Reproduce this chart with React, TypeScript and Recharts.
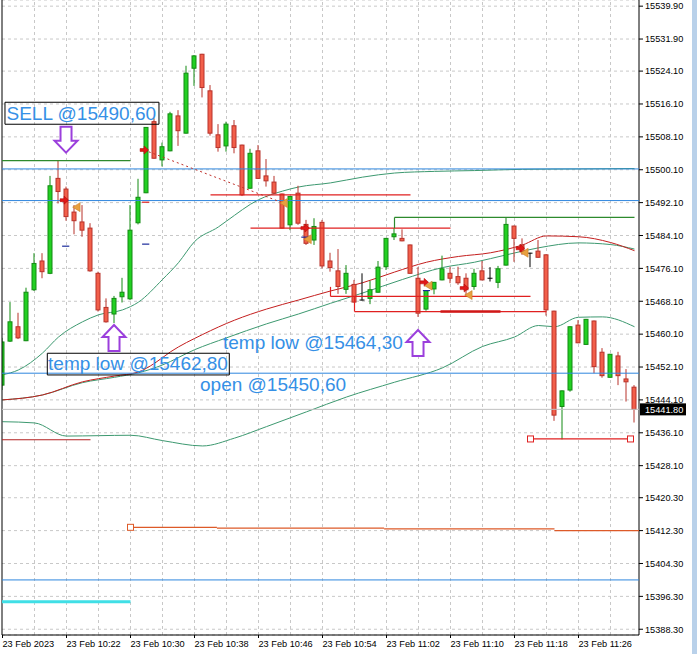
import React from "react";
import {
  ComposedChart,
  Bar,
  Line,
  XAxis,
  YAxis,
  CartesianGrid,
  ReferenceLine,
  ReferenceArea,
  ReferenceDot,
} from "recharts";

// ---------- axes ----------
const xTickIdx = [0, 8, 16, 24, 32, 40, 48, 56, 64, 72];
const xLabels = [
  "23 Feb 2023",
  "23 Feb 10:22",
  "23 Feb 10:30",
  "23 Feb 10:38",
  "23 Feb 10:46",
  "23 Feb 10:54",
  "23 Feb 11:02",
  "23 Feb 11:10",
  "23 Feb 11:18",
  "23 Feb 11:26",
];
const gridIdx = [4, 8, 12, 16, 20, 24, 28, 32, 36, 40, 44, 48, 52, 56, 60, 64, 68, 72, 76];
const yTicks = [
  15539.9, 15531.9, 15524.1, 15516.1, 15508.1, 15500.1, 15492.1, 15484.1, 15476.1, 15468.1,
  15460.1, 15452.1, 15444.1, 15436.1, 15428.1, 15420.3, 15412.3, 15404.3, 15396.3, 15388.3,
];
const xDomain = [-0.0625, 79.5625];
const yDomain = [15386.9, 15541.4];

// ---------- candles (1 minute, 10:14 .. 11:33) ----------
const opens = [
  15447.7, 15458.4, 15461.9, 15458.5, 15470.9, 15477.9, 15474.9, 15498.0, 15495.4, 15489.8,
  15487.4, 15485.9, 15474.9, 15466.6, 15465.0, 15469.2, 15468.7, 15487.2, 15494.5, 15511.8,
  15502.5, 15504.7, 15513.2, 15509.0, 15524.8, 15528.2, 15519.3, 15508.6, 15505.9, 15510.8,
  15506.1, 15495.6, 15504.7, 15498.6, 15497.1, 15494.2, 15486.7, 15494.4, 15486.8, 15483.0,
  15487.3, 15477.9, 15475.5, 15471.0, 15472.2, 15468.4, 15468.8, 15470.3, 15476.5, 15483.8,
  15483.4, 15481.8, 15473.7, 15466.2, 15471.1, 15473.3, 15474.9, 15474.1, 15473.7, 15471.7,
  15475.5, 15473.7, 15472.7, 15476.9, 15486.4, 15481.8, 15479.8, 15480.3, 15479.4, 15465.7,
  15442.5, 15446.5, 15462.3, 15457.6, 15463.3, 15455.7, 15449.6, 15454.8, 15449.2, 15447.2,
];
const highs = [
  15459.2, 15467.9, 15465.3, 15471.4, 15479.8, 15479.8, 15498.6, 15502.3, 15496.0, 15491.5,
  15491.5, 15487.1, 15475.3, 15468.8, 15469.4, 15473.8, 15491.5, 15497.9, 15510.5, 15512.6,
  15506.7, 15514.2, 15514.6, 15525.4, 15528.0, 15528.3, 15520.7, 15511.2, 15511.8, 15512.2,
  15506.2, 15505.2, 15506.1, 15502.7, 15498.6, 15494.3, 15493.7, 15496.2, 15487.9, 15488.3,
  15487.9, 15479.9, 15480.8, 15476.9, 15473.3, 15474.9, 15473.1, 15477.9, 15483.5, 15485.9,
  15485.6, 15481.9, 15476.4, 15470.8, 15472.8, 15479.2, 15476.4, 15476.5, 15474.9, 15476.0,
  15477.9, 15476.4, 15476.7, 15488.5, 15486.5, 15483.4, 15479.9, 15483.0, 15479.5, 15465.8,
  15446.4, 15462.0, 15463.5, 15463.8, 15463.4, 15456.7, 15455.3, 15455.8, 15451.6, 15447.7,
];
const lows = [
  15446.5, 15458.2, 15458.9, 15458.4, 15470.6, 15473.7, 15474.7, 15491.9, 15487.7, 15484.4,
  15483.8, 15475.3, 15465.6, 15462.9, 15462.8, 15467.8, 15468.4, 15486.8, 15494.4, 15502.8,
  15500.9, 15504.6, 15505.9, 15508.9, 15520.5, 15517.7, 15508.4, 15504.5, 15504.5, 15504.1,
  15493.7, 15495.5, 15497.9, 15496.0, 15494.2, 15485.8, 15485.4, 15486.7, 15481.8, 15481.8,
  15476.1, 15475.3, 15469.9, 15469.9, 15467.8, 15468.3, 15467.4, 15470.2, 15475.7, 15483.0,
  15482.7, 15474.8, 15464.3, 15465.8, 15469.8, 15473.2, 15472.5, 15472.1, 15469.2, 15470.9,
  15473.2, 15472.9, 15471.3, 15476.8, 15477.7, 15479.4, 15476.4, 15478.7, 15464.6, 15439.0,
  15434.5, 15446.1, 15457.9, 15457.5, 15450.6, 15449.5, 15449.5, 15447.7, 15443.7, 15438.6,
];
const closes = [
  15458.2, 15463.1, 15459.2, 15470.3, 15477.3, 15475.3, 15496.2, 15494.8, 15488.7, 15487.7,
  15485.4, 15475.5, 15466.0, 15463.1, 15468.8, 15470.3, 15485.4, 15493.4, 15510.4, 15502.9,
  15505.7, 15513.7, 15509.6, 15523.6, 15527.8, 15520.1, 15509.0, 15505.5, 15511.2, 15505.5,
  15494.0, 15504.1, 15498.0, 15497.4, 15494.4, 15485.9, 15493.6, 15487.1, 15482.2, 15486.3,
  15476.7, 15476.3, 15471.7, 15474.9, 15467.9, 15468.4, 15470.9, 15476.4, 15483.4, 15484.5,
  15482.8, 15474.9, 15465.2, 15470.7, 15472.7, 15476.0, 15473.7, 15472.6, 15470.9, 15474.9,
  15473.3, 15473.7, 15476.0, 15486.8, 15483.4, 15480.2, 15479.8, 15478.8, 15466.0, 15440.4,
  15446.3, 15461.9, 15458.0, 15463.7, 15452.2, 15450.0, 15455.2, 15450.0, 15448.5, 15441.8,
];

// ---------- indicators: [candle index, price] ----------
const maRed = [
  [0, 15444.1], [5, 15445.3], [10, 15448.5], [14, 15449.9], [17, 15450.9], [19, 15453.0],
  [21, 15455.8], [25, 15460.0], [29, 15463.5], [33, 15466.2], [37, 15468.4], [41, 15470.6],
  [45, 15472.6], [49, 15475.2], [53, 15477.6], [57, 15479.0], [61, 15479.9], [65, 15481.8],
  [68, 15484.0], [72, 15483.8], [76, 15482.4], [79, 15480.4],
];
const maGreen = [
  [0, 15444.1], [5, 15445.3], [10, 15448.3], [14, 15449.6], [17, 15450.7], [20, 15452.6],
  [24, 15456.3], [28, 15459.2], [33, 15462.6], [37, 15465.0], [41, 15467.6], [45, 15470.1],
  [50, 15473.4], [55, 15476.3], [59, 15477.6], [63, 15479.4], [67, 15481.1], [72, 15482.3],
  [76, 15481.9], [79, 15480.8],
];
const bandUpper = [
  [0, 15450.2], [2, 15451.4], [5, 15455.5], [7, 15459.4], [10, 15463.1], [12, 15464.8],
  [15, 15466.0], [17, 15467.9], [20, 15473.4], [22, 15477.5], [24, 15482.6], [27, 15486.2],
  [28, 15487.6], [32, 15492.8], [35, 15494.9], [37, 15495.9], [41, 15496.9], [45, 15498.3],
  [49, 15499.3], [54, 15499.7], [59, 15499.9], [65, 15500.2], [72, 15500.3], [79, 15500.4],
];
const bandLower = [
  [0, 15438.8], [4, 15438.5], [8, 15435.3], [12, 15435.4], [16, 15435.5], [20, 15434.2],
  [25, 15432.9], [29, 15434.8], [33, 15437.6], [38, 15441.2], [43, 15444.8], [49, 15448.4],
  [55, 15451.9], [60, 15457.1], [64, 15459.4], [67, 15462.2], [69, 15461.9], [72, 15464.2],
  [75, 15464.3], [79, 15461.9],
];

// ---------- chart objects: [from index, to index, price] ----------
const blueLevels = [15500.3, 15492.6, 15450.6, 15400.3];
const lastPrice = 15441.8;
const redLevels = [
  [26, 51, 15494.0],
  [31, 56, 15485.9],
  [41, 66, 15469.3],
  [44, 68, 15465.6],
];
const redThick = [[54.75, 62.25, 15465.6]];
const redVerticals = [
  [41, 15471.6, 15469.3],
  [44, 15469.3, 15465.6],
];
const greenLevels = [
  [-0.0625, 16, 15502.3],
  [49, 79, 15488.5],
];
const greenVerticals = [[49, 15488.5, 15485.9]];
const darkRedLevels = [[-0.0625, 11, 15434.4]];
const stopLevel = [[66, 78.5, 15434.6]];
const orangeSteps = [
  [16, 26.8, 15413.1],
  [26.8, 47.7, 15412.9],
  [47.7, 69.0, 15412.7],
  [69.0, 79.5625, 15412.3],
];
const cyanLevels = [[-0.0625, 16, 15395.0]];
const tradeLine = [
  [17.7, 15504.9],
  [35.1, 15492.0],
];
const entryArrows = [
  [7.7, 15492.7], [17.7, 15504.9], [37.8, 15485.9], [52.7, 15472.7], [57.7, 15471.3], [64.7, 15481.0],
];
const exitArrows = [
  [9.2, 15491.0], [35.1, 15492.0], [38.1, 15483.2], [53.2, 15471.9], [58.2, 15469.6], [65.2, 15479.9],
];
const navyDashes = [
  [7.9, 15481.5], [17.9, 15482.0], [37.8, 15483.7], [53, 15470.7],
];
const redDashes = [[17.9, 15492.2]];

// ---------- annotations ----------
const textNotes = [
  { text: "SELL @15490,60", i: 0.5, p: 15512.2 },
  { text: "temp low @15462,80", i: 5.7, p: 15451.3 },
  { text: "temp low @15464,30", i: 27.56, p: 15456.4 },
  { text: "open @15450,60", i: 24.69, p: 15446.35 },
];
const noteBoxes = [
  { i1: 0.31, i2: 19.56, p1: 15511.17, p2: 15516.52 },
  { i1: 5.6, i2: 28.35, p1: 15450.17, p2: 15455.45 },
];
const downArrows = [[7.94, 15504.26]];
const upArrows = [
  [13.94, 15462.33],
  [51.94, 15461.12],
];

// ---------- derived tables ----------
const candles = opens.map((o, i) => ({
  i,
  open: o,
  high: highs[i],
  low: lows[i],
  close: closes[i],
  range: [lows[i], highs[i]],
}));
const toPts = (arr: number[][]) => arr.map(([i, v]) => ({ i, v }));

const BULL_FILL = "#22d022";
const BULL_EDGE = "#138a13";
const BEAR_FILL = "#f25f4a";
const BEAR_EDGE = "#b8322a";
const TEXT_BLUE = "#3590e6";
const PURPLE = "#9b3fdc";
const FONT = "'Liberation Sans', Arial, sans-serif";
const ZG = -100; // grid layer
const ZC = 450; // candle layer (above indicators)
const ZO = 700; // chart objects layer

const Candle = (props: any) => {
  const { x, y, width, height, payload } = props;
  if (payload == null || x == null || y == null) return null;
  const { open, close, high, low } = payload;
  const top = Math.min(y, y + height);
  const bot = Math.max(y, y + height);
  const span = high - low;
  const pix = (v: number) => (span === 0 ? top : top + ((high - v) / span) * (bot - top));
  const cx = x + width / 2;
  if (open === close) {
    const yy = pix(open);
    return (
      <g>
        <line x1={cx} x2={cx} y1={top} y2={bot} stroke="#000" strokeWidth={1} />
        <line x1={cx - 2.5} x2={cx + 2.5} y1={yy} y2={yy} stroke="#000" strokeWidth={1} />
      </g>
    );
  }
  const up = close > open;
  const bt = pix(Math.max(open, close));
  const bb = pix(Math.min(open, close));
  return (
    <g>
      <line x1={cx} x2={cx} y1={top} y2={bot} stroke={up ? BULL_EDGE : BEAR_EDGE} strokeWidth={1} />
      <rect
        x={cx - 2}
        y={bt}
        width={4}
        height={Math.max(1, bb - bt)}
        fill={up ? BULL_FILL : BEAR_FILL}
        stroke={up ? BULL_EDGE : BEAR_EDGE}
        strokeWidth={1}
      />
    </g>
  );
};

const XTick = (props: any) => {
  const { x, y, payload } = props;
  const k = xTickIdx.indexOf(payload.value);
  return (
    <text x={x} y={y} dy="0.71em" fontSize={9.2} fill="#000" textAnchor="start" fontFamily={FONT}>
      {k >= 0 ? xLabels[k] : ""}
    </text>
  );
};

const PriceTag = (props: any) => {
  const vb = props.viewBox || {};
  const right = (vb.x || 0) + (vb.width || 0);
  const yy = vb.y || 0;
  return (
    <g>
      <rect x={right + 1} y={yy - 6} width={46} height={12} fill="#000" />
      <text x={right + 6} y={yy} dy="0.35em" fontSize={9.2} fill="#fff" fontFamily={FONT}>
        {lastPrice.toFixed(2)}
      </text>
    </g>
  );
};

const DownArrow = (p: any) => {
  const { cx, cy } = p;
  const pts = [
    [0, 0], [-11.5, -12], [-5.5, -12], [-5.5, -26], [5.5, -26], [5.5, -12], [11.5, -12],
  ].map(([a, b]) => `${cx + a},${cy + b}`).join(" ");
  return <polygon points={pts} fill="#fff" stroke={PURPLE} strokeWidth={2} strokeLinejoin="miter" />;
};
const UpArrow = (p: any) => {
  const { cx, cy } = p;
  const pts = [
    [0, 0], [-11.5, 12], [-5.5, 12], [-5.5, 26], [5.5, 26], [5.5, 12], [11.5, 12],
  ].map(([a, b]) => `${cx + a},${cy + b}`).join(" ");
  return <polygon points={pts} fill="#fff" stroke={PURPLE} strokeWidth={2} strokeLinejoin="miter" />;
};
const EntryArrow = (p: any) => {
  const { cx, cy } = p;
  const pts = [
    [-4, -1.5], [0, -1.5], [0, -4], [4.5, 0], [0, 4], [0, 1.5], [-4, 1.5],
  ].map(([a, b]) => `${cx + a},${cy + b}`).join(" ");
  return <polygon points={pts} fill="#e01818" stroke="#b00000" strokeWidth={0.5} />;
};
const ExitArrow = (p: any) => {
  const { cx, cy } = p;
  const pts = [[4, -4.5], [-3.5, 0], [4, 4.5]].map(([a, b]) => `${cx + a},${cy + b}`).join(" ");
  return <polygon points={pts} fill="#e8a040" stroke="#c07820" strokeWidth={0.5} />;
};
const Square = (color: string) => (p: any) => (
  <rect x={p.cx - 3} y={p.cy - 3} width={6} height={6} fill="#fff" stroke={color} strokeWidth={1} />
);
const NoteText = (text: string) => (p: any) => (
  <text x={p.cx} y={p.cy} fontSize={19} fill={TEXT_BLUE} fontFamily={FONT}>
    {text}
  </text>
);

const seg = (a: number, b: number, p: number) => [
  { x: a, y: p },
  { x: b, y: p },
];
const vseg = (i: number, p1: number, p2: number) => [
  { x: i, y: p1 },
  { x: i, y: p2 },
];

export default function App() {
  return (
    <div
      style={{
        position: "absolute",
        left: 0,
        top: 0,
        width: 697,
        height: 654,
        background: "#fff",
        overflow: "hidden",
        fontFamily: FONT,
      }}
    >
      <ComposedChart
        width={697}
        height={654}
        data={candles}
        margin={{ top: 0, right: 0, bottom: 0, left: 2 }}
      >
        <CartesianGrid vertical={false} stroke="#c8c8c8" strokeDasharray="3 3" />
        {gridIdx.map((g) => (
          <ReferenceLine key={"g" + g} x={g} stroke="#c8c8c8" strokeDasharray="3 3" zIndex={ZG} />
        ))}
        <XAxis
          dataKey="i"
          type="number"
          domain={xDomain}
          ticks={xTickIdx}
          interval={0}
          allowDataOverflow
          height={19}
          tickSize={3}
          axisLine={{ stroke: "#000" }}
          tickLine={{ stroke: "#000" }}
          tick={<XTick />}
        />
        <YAxis
          orientation="right"
          type="number"
          domain={yDomain}
          ticks={yTicks}
          interval={0}
          allowDataOverflow
          width={58}
          tickSize={4}
          axisLine={{ stroke: "#000" }}
          tickLine={{ stroke: "#000" }}
          tick={{ fill: "#000", fontSize: 9.2, fontFamily: FONT }}
          tickFormatter={(v: number) => v.toFixed(2)}
        />

        {/* left border */}
        <ReferenceLine x={xDomain[0]} stroke="#000" strokeWidth={1} zIndex={ZO} />

        {/* horizontal full-width levels */}
        {blueLevels.map((p) => (
          <ReferenceLine key={"b" + p} y={p} stroke="#2e86de" strokeWidth={1} zIndex={ZO} />
        ))}
        <ReferenceLine y={lastPrice} stroke="#c0c0c0" strokeWidth={1} label={PriceTag} zIndex={ZO} />

        {/* indicators */}
        <Line data={toPts(bandUpper)} dataKey="v" type="monotone" stroke="#3d9970" strokeWidth={1} dot={false} isAnimationActive={false} />
        <Line data={toPts(bandLower)} dataKey="v" type="monotone" stroke="#3d9970" strokeWidth={1} dot={false} isAnimationActive={false} />
        <Line data={toPts(maGreen)} dataKey="v" type="monotone" stroke="#3d9970" strokeWidth={1} dot={false} isAnimationActive={false} />
        <Line data={toPts(maRed)} dataKey="v" type="monotone" stroke="#c41e1e" strokeWidth={1} dot={false} isAnimationActive={false} />

        {/* candles */}
        <Bar dataKey="range" barSize={5} shape={<Candle />} isAnimationActive={false} zIndex={ZC} />

        {/* objects */}
        {redLevels.map(([a, b, p], k) => (
          <ReferenceLine key={"r" + k} segment={seg(a, b, p)} stroke="#e02020" strokeWidth={1.2} zIndex={ZO} />
        ))}
        {redThick.map(([a, b, p], k) => (
          <ReferenceLine key={"rt" + k} segment={seg(a, b, p)} stroke="#d01818" strokeWidth={2.5} zIndex={ZO} />
        ))}
        {redVerticals.map(([i, p1, p2], k) => (
          <ReferenceLine key={"rv" + k} segment={vseg(i, p1, p2)} stroke="#e02020" strokeWidth={1.2} zIndex={ZO} />
        ))}
        {greenLevels.map(([a, b, p], k) => (
          <ReferenceLine key={"gl" + k} segment={seg(a, b, p)} stroke="#2d8a2d" strokeWidth={1.2} zIndex={ZO} />
        ))}
        {greenVerticals.map(([i, p1, p2], k) => (
          <ReferenceLine key={"gv" + k} segment={vseg(i, p1, p2)} stroke="#2d8a2d" strokeWidth={1.2} zIndex={ZO} />
        ))}
        {darkRedLevels.map(([a, b, p], k) => (
          <ReferenceLine key={"dr" + k} segment={seg(a, b, p)} stroke="#b22222" strokeWidth={1.2} zIndex={ZO} />
        ))}
        {stopLevel.map(([a, b, p], k) => (
          <ReferenceLine key={"sl" + k} segment={seg(a, b, p)} stroke="#e02020" strokeWidth={1.2} zIndex={ZO} />
        ))}
        {stopLevel.map(([a, b, p], k) => (
          <ReferenceDot key={"sq1" + k} x={a} y={p} r={3} shape={Square("#e02020")} zIndex={ZO} />
        ))}
        {stopLevel.map(([a, b, p], k) => (
          <ReferenceDot key={"sq2" + k} x={b} y={p} r={3} shape={Square("#e02020")} zIndex={ZO} />
        ))}
        {orangeSteps.map(([a, b, p], k) => (
          <ReferenceLine key={"o" + k} segment={seg(a, b, p)} stroke="#dd5a28" strokeWidth={1.2} zIndex={ZO} />
        ))}
        <ReferenceDot x={orangeSteps[0][0]} y={orangeSteps[0][2]} r={3} shape={Square("#dd5a28")} zIndex={ZO} />
        {cyanLevels.map(([a, b, p], k) => (
          <ReferenceLine key={"c" + k} segment={seg(a, b, p)} stroke="#40dfe6" strokeWidth={3} zIndex={ZO} />
        ))}
        <ReferenceLine
          segment={[
            { x: tradeLine[0][0], y: tradeLine[0][1] },
            { x: tradeLine[1][0], y: tradeLine[1][1] },
          ]}
          stroke="#c0302a"
          strokeDasharray="2 3"
          strokeWidth={1}
          zIndex={ZO}
        />
        {navyDashes.map(([i, p], k) => (
          <ReferenceLine key={"nd" + k} segment={seg(i - 0.45, i + 0.45, p)} stroke="#1a2a9a" strokeWidth={1.2} zIndex={ZO} />
        ))}
        {redDashes.map(([i, p], k) => (
          <ReferenceLine key={"rd" + k} segment={seg(i - 0.45, i + 0.45, p)} stroke="#e02020" strokeWidth={1.2} zIndex={ZO} />
        ))}
        {entryArrows.map(([i, p], k) => (
          <ReferenceDot key={"ea" + k} x={i} y={p} r={4} shape={EntryArrow} zIndex={ZO} />
        ))}
        {exitArrows.map(([i, p], k) => (
          <ReferenceDot key={"xa" + k} x={i} y={p} r={4} shape={ExitArrow} zIndex={ZO} />
        ))}

        {/* annotations */}
        {noteBoxes.map((b, k) => (
          <ReferenceArea
            key={"nb" + k}
            x1={b.i1}
            x2={b.i2}
            y1={b.p1}
            y2={b.p2}
            fill="none"
            fillOpacity={0}
            stroke="#000"
            strokeWidth={1}
            zIndex={ZO}
          />
        ))}
        {textNotes.map((t, k) => (
          <ReferenceDot key={"tn" + k} x={t.i} y={t.p} r={1} shape={NoteText(t.text)} zIndex={ZO + 10} />
        ))}
        {downArrows.map(([i, p], k) => (
          <ReferenceDot key={"da" + k} x={i} y={p} r={5} shape={DownArrow} zIndex={ZO + 10} />
        ))}
        {upArrows.map(([i, p], k) => (
          <ReferenceDot key={"ua" + k} x={i} y={p} r={5} shape={UpArrow} zIndex={ZO + 10} />
        ))}
      </ComposedChart>
      <div
        style={{
          position: "absolute",
          left: 692,
          top: 0,
          width: 5,
          height: 654,
          background: "#b9d1ea",
        }}
      />
    </div>
  );
}
